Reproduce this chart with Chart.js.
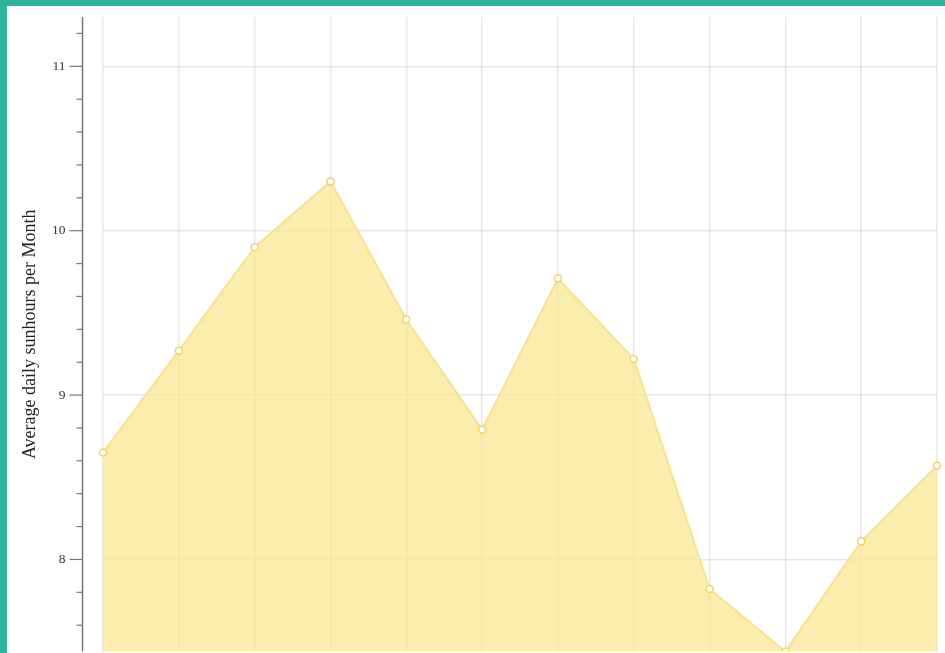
<!DOCTYPE html>
<html>
<head>
<meta charset="utf-8">
<script src="https://cdn.jsdelivr.net/npm/chart.js@4"></script>
<style>
  html, body { margin: 0; padding: 0; background: #2db39a; overflow: hidden; }
  #wrap { position: absolute; left: 7px; top: 6px; width: 938px; height: 647px; background: #fff; overflow: hidden; }
  canvas { display: block; }
</style>
</head>
<body>
<div id="wrap"><canvas id="sunChart" width="938" height="651"></canvas></div>
<script>
// average daily sunhours, one point per month
const months = ['Jan','Feb','Mar','Apr','May','Jun','Jul','Aug','Sep','Oct','Nov','Dec'];
const sunhours = [8.65, 9.27, 9.90, 10.30, 9.46, 8.79, 9.71, 9.22, 7.82, 7.44, 8.11, 8.57];
const majorTicks = [8, 9, 10, 11];
const yTitle = 'Average daily sunhours per Month';

const yMin = Math.min(...sunhours);
const yMax = Math.max(...sunhours) + 1;

// y axis sits 20px left of the plot, with minor ticks every 0.2
const sideAxis = {
  id: 'sideAxis',
  afterDraw(chart) {
    const { ctx, chartArea, scales: { y } } = chart;
    const ax = chartArea.left - 20.5;
    ctx.save();
    ctx.strokeStyle = '#777';
    ctx.lineWidth = 1.5;
    ctx.beginPath();
    ctx.moveTo(ax, chartArea.top);
    ctx.lineTo(ax, chartArea.bottom);
    ctx.stroke();

    ctx.lineWidth = 1.2;
    for (let v = Math.ceil(yMin * 5) / 5; v <= yMax + 1e-6; v += 0.2) {
      const isMajor = Math.abs(v - Math.round(v)) < 1e-6;
      if (isMajor) continue;
      const py = y.getPixelForValue(v);
      ctx.beginPath();
      ctx.moveTo(ax - 6, py);
      ctx.lineTo(ax, py);
      ctx.stroke();
    }

    ctx.font = '13.5px "Liberation Serif", serif';
    ctx.fillStyle = '#333';
    ctx.textAlign = 'right';
    ctx.textBaseline = 'middle';
    majorTicks.forEach(v => {
      const py = y.getPixelForValue(v);
      ctx.beginPath();
      ctx.moveTo(ax - 13, py);
      ctx.lineTo(ax, py);
      ctx.stroke();
      ctx.fillText(String(v), ax - 17, py);
    });

    ctx.translate(23, (chartArea.top + chartArea.bottom) / 2);
    ctx.rotate(-Math.PI / 2);
    ctx.textAlign = 'center';
    ctx.font = '18px "Liberation Serif", serif';
    ctx.fillStyle = '#222';
    ctx.fillText(yTitle, 0, 0);
    ctx.restore();
  }
};

new Chart(document.getElementById('sunChart'), {
  type: 'line',
  data: {
    labels: months,
    datasets: [{
      data: sunhours,
      borderColor: '#f8e28a',
      backgroundColor: 'rgba(248,230,140,0.7)',
      borderWidth: 2,
      pointRadius: 3.5,
      pointBorderWidth: 1.5,
      pointBackgroundColor: '#fff',
      pointBorderColor: '#f2d463',
      tension: 0,
      fill: 'start'
    }]
  },
  options: {
    responsive: false,
    animation: false,
    layout: { padding: { left: 96, top: 11, right: 8, bottom: 0 } },
    plugins: { legend: { display: false }, tooltip: { enabled: false } },
    scales: {
      x: {
        ticks: { display: false },
        grid: { color: 'rgba(0,0,0,0.09)', lineWidth: 1.5, drawTicks: false },
        border: { display: false },
        afterFit: s => { s.height = 0; }
      },
      y: {
        min: yMin,
        max: yMax,
        afterBuildTicks: s => { s.ticks = majorTicks.map(v => ({ value: v })); },
        ticks: { display: false },
        grid: { color: 'rgba(0,0,0,0.09)', lineWidth: 1.5, drawTicks: false },
        border: { display: false },
        afterFit: s => { s.width = 0; }
      }
    }
  },
  plugins: [sideAxis]
});
</script>
</body>
</html>
